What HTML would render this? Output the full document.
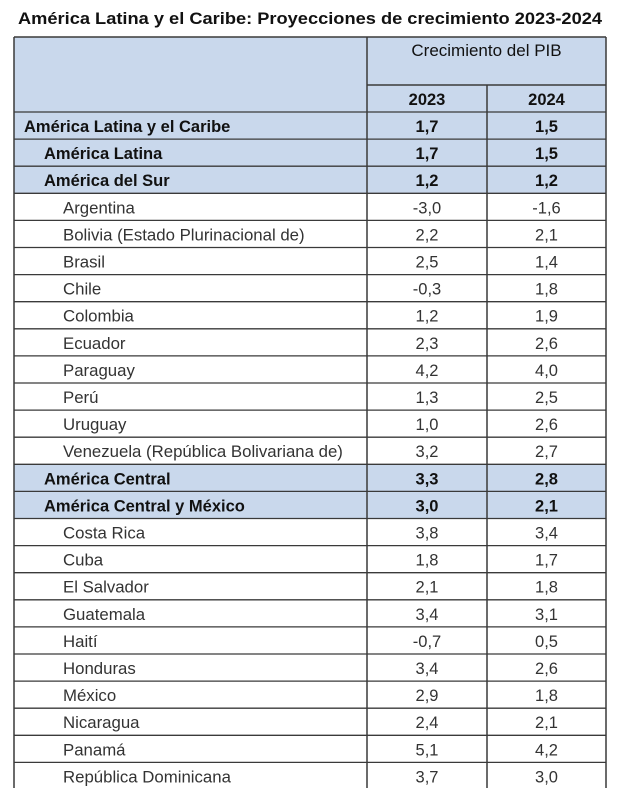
<!DOCTYPE html>
<html><head><meta charset="utf-8"><style>
body{margin:0;background:#fff;width:620px;height:788px;overflow:hidden}
svg{display:block;font-family:"Liberation Sans",sans-serif}
</style></head><body>
<svg id="s" width="620" height="788">
<text x="18" y="24" font-size="17" font-weight="bold" fill="#111" textLength="584" lengthAdjust="spacingAndGlyphs">América Latina y el Caribe: Proyecciones de crecimiento 2023-2024</text>
</svg>
<script>
const labels=["América Latina y el Caribe","América Latina","América del Sur","Argentina","Bolivia (Estado Plurinacional de)","Brasil","Chile","Colombia","Ecuador","Paraguay","Perú","Uruguay","Venezuela (República Bolivariana de)","América Central","América Central y México","Costa Rica","Cuba","El Salvador","Guatemala","Haití","Honduras","México","Nicaragua","Panamá","República Dominicana"];
const levels=[0,1,1,2,2,2,2,2,2,2,2,2,2,1,1,2,2,2,2,2,2,2,2,2,2];
const v2023=["1,7","1,7","1,2","-3,0","2,2","2,5","-0,3","1,2","2,3","4,2","1,3","1,0","3,2","3,3","3,0","3,8","1,8","2,1","3,4","-0,7","3,4","2,9","2,4","5,1","3,7"];
const v2024=["1,5","1,5","1,2","-1,6","2,1","1,4","1,8","1,9","2,6","4,0","2,5","2,6","2,7","2,8","2,1","3,4","1,7","1,8","3,1","0,5","2,6","1,8","2,1","4,2","3,0"];
const s=document.getElementById('s');
const NS="http://www.w3.org/2000/svg";
function el(t,a){const e=document.createElementNS(NS,t);for(const k in a)e.setAttribute(k,a[k]);s.appendChild(e);return e;}
const L=14,C1=367,C2=487,R=606,T=37,H1=85,H2=112,RH=27.1;
const blue="#c9d8ec",line="#3a3a3a";
let r=el('rect',{x:L,y:T,width:R-L,height:H2-T,fill:blue});


let t=el('text',{x:(C1+R)/2,y:56,'font-size':17,'text-anchor':'middle',fill:'#111'});
t.textContent="Crecimiento del PIB";


[["2023",(C1+C2)/2],["2024",(C2+R)/2]].forEach(([y,x])=>{
 const e=el('text',{x:x,y:105,'font-size':16.5,'font-weight':'bold','text-anchor':'middle',fill:'#111'});
 e.textContent=y;
 
 
});
labels.forEach((lab,i)=>{
 const y0=H2+i*RH, bold=levels[i]<2;
 if(bold){const b=el('rect',{x:L,y:y0,width:R-L,height:RH,fill:blue});
  
  }
 const x=[24,44,63][levels[i]];
 const a=el('text',{x:x,y:y0+20,'font-size':bold?16.5:16.8,'font-weight':bold?'bold':'normal',fill:bold?'#111':'#333'});
 a.textContent=lab;
 
 
 const b1=el('text',{x:(C1+C2)/2,y:y0+20,'font-size':16.5,'font-weight':bold?'bold':'normal','text-anchor':'middle',fill:bold?'#111':'#333'});
 b1.textContent=v2023[i];
 
 
 const b2=el('text',{x:(C2+R)/2,y:y0+20,'font-size':16.5,'font-weight':bold?'bold':'normal','text-anchor':'middle',fill:bold?'#111':'#333'});
 b2.textContent=v2024[i];
 
 
 const ln=el('line',{x1:L,x2:R,y1:y0,y2:y0,stroke:line,'stroke-width':1.3});
 
 
});
const gl=[[L,T,R,T],[C1,H1,R,H1],[L,T,L,800],[R,T,R,800],[C1,T,C1,800],[C2,H1,C2,800]];
gl.forEach(g=>{const e=el('line',{x1:g[0],y1:g[1],x2:g[2],y2:g[3],stroke:line,'stroke-width':1.5});
 
 });
</script>
</body></html>
